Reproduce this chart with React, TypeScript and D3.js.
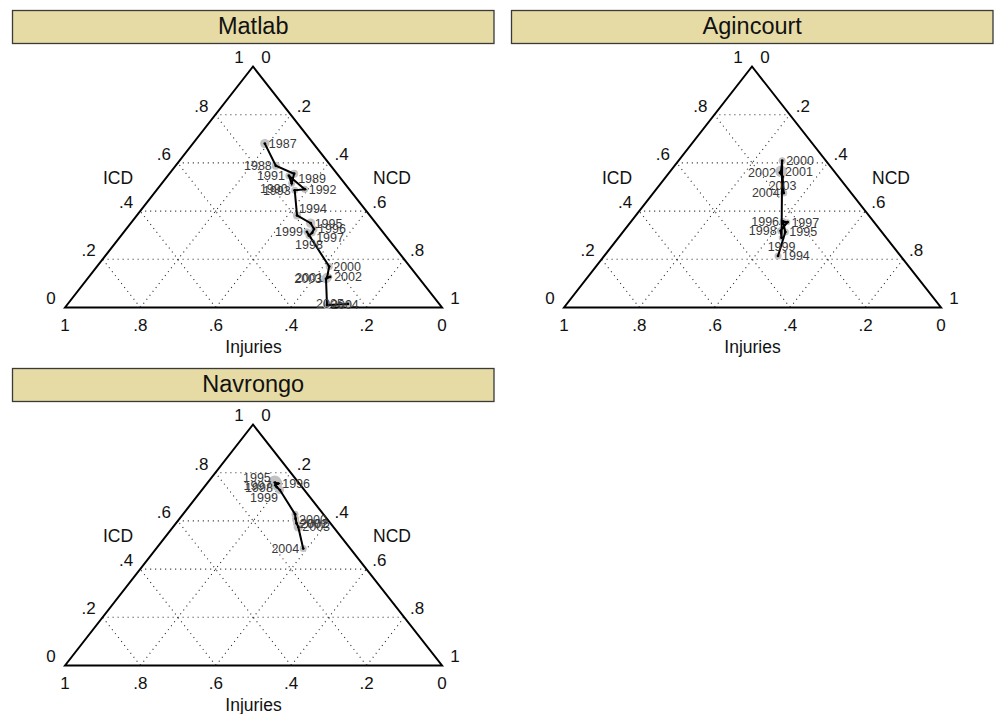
import React from 'react';
import * as d3 from 'd3';

// Panel titles and axis names
const siteNames = ['Matlab', 'Agincourt', 'Navrongo'];
const axisNames = { left: 'ICD', right: 'NCD', bottom: 'Injuries' };

// Tick values / labels shared by all three axes
const tickValues = [0, 0.2, 0.4, 0.6, 0.8, 1];
const tickLabels = ['0', '.2', '.4', '.6', '.8', '1'];
const gridValues = [0.2, 0.4, 0.6, 0.8];

// Matlab, 1987-2005 (shares of deaths)
const matlabYears = [1987, 1988, 1989, 1990, 1991, 1992, 1993, 1994, 1995, 1996, 1997, 1998, 1999, 2000, 2001, 2002, 2003, 2004, 2005];
const matlabICD = [0.680, 0.588, 0.555, 0.516, 0.547, 0.491, 0.486, 0.382, 0.350, 0.326, 0.310, 0.299, 0.314, 0.170, 0.125, 0.127, 0.119, 0.010, 0.015];
const matlabNCD = [0.191, 0.266, 0.331, 0.344, 0.321, 0.391, 0.367, 0.425, 0.477, 0.498, 0.501, 0.498, 0.485, 0.616, 0.633, 0.640, 0.633, 0.690, 0.743];
const matlabInj = [0.129, 0.146, 0.114, 0.140, 0.132, 0.118, 0.147, 0.193, 0.173, 0.176, 0.189, 0.203, 0.201, 0.214, 0.242, 0.233, 0.248, 0.300, 0.242];
const matlabWeight = [16, 12, 12, 9, 9, 9, 9, 12, 16, 9, 9, 9, 9, 9, 16, 4, 16, 12, 9];
const matlabLabelClock = [3, 9, 4, 8, 9, 3, 9, 1, 3, 3, 4, 6, 9, 3, 9, 3, 9, 3, 9];

// Agincourt, 1994-2004
const agincourtYears = [1994, 1995, 1996, 1997, 1998, 1999, 2000, 2001, 2002, 2003, 2004];
const agincourtICD = [0.214, 0.313, 0.357, 0.354, 0.318, 0.289, 0.609, 0.565, 0.559, 0.543, 0.475];
const agincourtNCD = [0.461, 0.431, 0.403, 0.416, 0.416, 0.433, 0.275, 0.294, 0.294, 0.309, 0.346];
const agincourtInj = [0.325, 0.256, 0.240, 0.230, 0.266, 0.278, 0.116, 0.141, 0.147, 0.148, 0.179];
const agincourtWeight = [9, 9, 9, 6, 9, 6, 9, 25, 9, 4, 9];
const agincourtLabelClock = [3, 3, 9, 3, 9, 6, 3, 3, 9, 6, 9];

// Navrongo, 1995-2004
const navrongoYears = [1995, 1996, 1997, 1998, 1999, 2000, 2001, 2002, 2003, 2004];
const navrongoICD = [0.759, 0.755, 0.748, 0.740, 0.728, 0.628, 0.609, 0.590, 0.575, 0.485];
const navrongoNCD = [0.178, 0.189, 0.185, 0.193, 0.207, 0.297, 0.308, 0.320, 0.332, 0.390];
const navrongoInj = [0.063, 0.056, 0.067, 0.067, 0.065, 0.075, 0.083, 0.090, 0.093, 0.125];
const navrongoWeight = [36, 12, 9, 9, 12, 9, 9, 9, 16, 9];
const navrongoLabelClock = [10, 3, 9, 9, 7, 4, 4, 3, 3, 9];

interface Site {
  name: string;
  years: number[];
  icd: number[];
  ncd: number[];
  inj: number[];
  weight: number[];
  clock: number[];
}

const sites: Site[] = [
  { name: siteNames[0], years: matlabYears, icd: matlabICD, ncd: matlabNCD, inj: matlabInj, weight: matlabWeight, clock: matlabLabelClock },
  { name: siteNames[1], years: agincourtYears, icd: agincourtICD, ncd: agincourtNCD, inj: agincourtInj, weight: agincourtWeight, clock: agincourtLabelClock },
  { name: siteNames[2], years: navrongoYears, icd: navrongoICD, ncd: navrongoNCD, inj: navrongoInj, weight: navrongoWeight, clock: navrongoLabelClock },
];

// layout
const W = 997;
const H = 714;
const panelOffsets: [number, number][] = [[0, 0], [499, 0], [0, 358]];
const bar = { x: 12.5, y: 10.5, w: 481.5, h: 33 };
const BL: [number, number] = [65, 307.5];
const TOP: [number, number] = [253, 66.5];
const BR: [number, number] = [442, 307.5];

const FONT = '"Liberation Sans", Arial, Helvetica, sans-serif';

// ternary -> pixel: y from ICD, x from NCD plus shift by ICD
const yScale = d3.scaleLinear().domain([0, 1]).range([BL[1], TOP[1]]);
const xNcd = d3.scaleLinear().domain([0, 1]).range([BL[0], BR[0]]);
const xIcd = d3.scaleLinear().domain([0, 1]).range([0, TOP[0] - BL[0]]);
const project = (icd: number, ncd: number): [number, number] => [xNcd(ncd) + xIcd(icd), yScale(icd)];

const rScale = d3.scaleSqrt().domain([0, 36]).range([0, 7]);

const clockOffsets: Record<number, { dx: number; dy: number; anchor: string }> = {
  1: { dx: 2, dy: -7, anchor: 'start' },
  2: { dx: 4, dy: -4, anchor: 'start' },
  3: { dx: 4, dy: 0, anchor: 'start' },
  4: { dx: 4, dy: 5, anchor: 'start' },
  5: { dx: 2, dy: 8, anchor: 'start' },
  6: { dx: 0, dy: 9, anchor: 'middle' },
  7: { dx: -2, dy: 8, anchor: 'end' },
  8: { dx: -4, dy: 5, anchor: 'end' },
  9: { dx: -4, dy: 0, anchor: 'end' },
  10: { dx: -4, dy: -5, anchor: 'end' },
  11: { dx: -2, dy: -7, anchor: 'end' },
  12: { dx: 0, dy: -8, anchor: 'middle' },
};

const Panel: React.FC<{ site: Site; offset: [number, number] }> = ({ site, offset }) => {
  const pts = site.years.map((_, i) => project(site.icd[i], site.ncd[i]));
  const line = d3.line<[number, number]>()(pts) ?? '';

  const grid: string[] = [];
  gridValues.forEach(v => {
    // ICD constant
    grid.push(d3.line()([project(v, 0), project(v, 1 - v)])!);
    // Injuries constant
    grid.push(d3.line()([project(0, 1 - v), project(1 - v, 0)])!);
    // NCD constant
    grid.push(d3.line()([project(0, v), project(1 - v, v)])!);
  });

  return (
    <g transform={`translate(${offset[0]},${offset[1]})`}>
      <rect x={bar.x} y={bar.y} width={bar.w} height={bar.h} fill="#e6dba5" stroke="#3a3a3a" strokeWidth={1.3} />
      <text x={bar.x + bar.w / 2} y={bar.y + 23} textAnchor="middle" fontSize={23.5} fontFamily={FONT} fill="#111">{site.name}</text>

      {grid.map((d, i) => (
        <path key={i} d={d} fill="none" stroke="#222" strokeWidth={1.1} strokeDasharray="1 4" />
      ))}

      <path d={d3.line()([BL, TOP, BR])! + 'Z'} fill="none" stroke="#000" strokeWidth={2} strokeLinejoin="miter" />

      {tickValues.map((v, i) => {
        const [lx, ly] = project(v, 0);
        const [rx, ry] = project(1 - v, v);
        const [bx] = project(0, 1 - v);
        return (
          <g key={i} fontFamily={FONT} fontSize={17} fill="#111">
            <text x={lx - 14} y={ly - 9} dy="0.35em" textAnchor="middle">{tickLabels[i]}</text>
            <text x={rx + 13} y={ry - 9} dy="0.35em" textAnchor="middle">{tickLabels[i]}</text>
            <text x={bx} y={BL[1] + 23} textAnchor="middle">{tickLabels[i]}</text>
          </g>
        );
      })}

      <g fontFamily={FONT} fontSize={17.5} fill="#111">
        <text x={118} y={184} textAnchor="middle">{axisNames.left}</text>
        <text x={392} y={184} textAnchor="middle">{axisNames.right}</text>
        <text x={(BL[0] + BR[0]) / 2} y={BL[1] + 45} textAnchor="middle">{axisNames.bottom}</text>
      </g>

      {pts.map((p, i) => (
        <circle key={`c${i}`} cx={p[0]} cy={p[1]} r={rScale(site.weight[i])} fill="#c2c2c2" />
      ))}
      <path d={line} fill="none" stroke="#000" strokeWidth={2} />
      {pts.map((p, i) => (
        <circle key={`d${i}`} cx={p[0]} cy={p[1]} r={1.4} fill="#000" />
      ))}
      {pts.map((p, i) => {
        const o = clockOffsets[site.clock[i]];
        return (
          <text key={`l${i}`} x={p[0] + o.dx} y={p[1] + o.dy} dy="0.35em" textAnchor={o.anchor}
            fontFamily={FONT} fontSize={12.5} fill="#3a3a3a">{site.years[i]}</text>
        );
      })}
    </g>
  );
};

export default function App() {
  return (
    <svg width={W} height={H} viewBox={`0 0 ${W} ${H}`} style={{ position: 'absolute', left: 0, top: 0, background: '#fff' }}>
      <rect width={W} height={H} fill="#fff" />
      {sites.map((s, i) => (
        <Panel key={s.name} site={s} offset={panelOffsets[i]} />
      ))}
    </svg>
  );
}
